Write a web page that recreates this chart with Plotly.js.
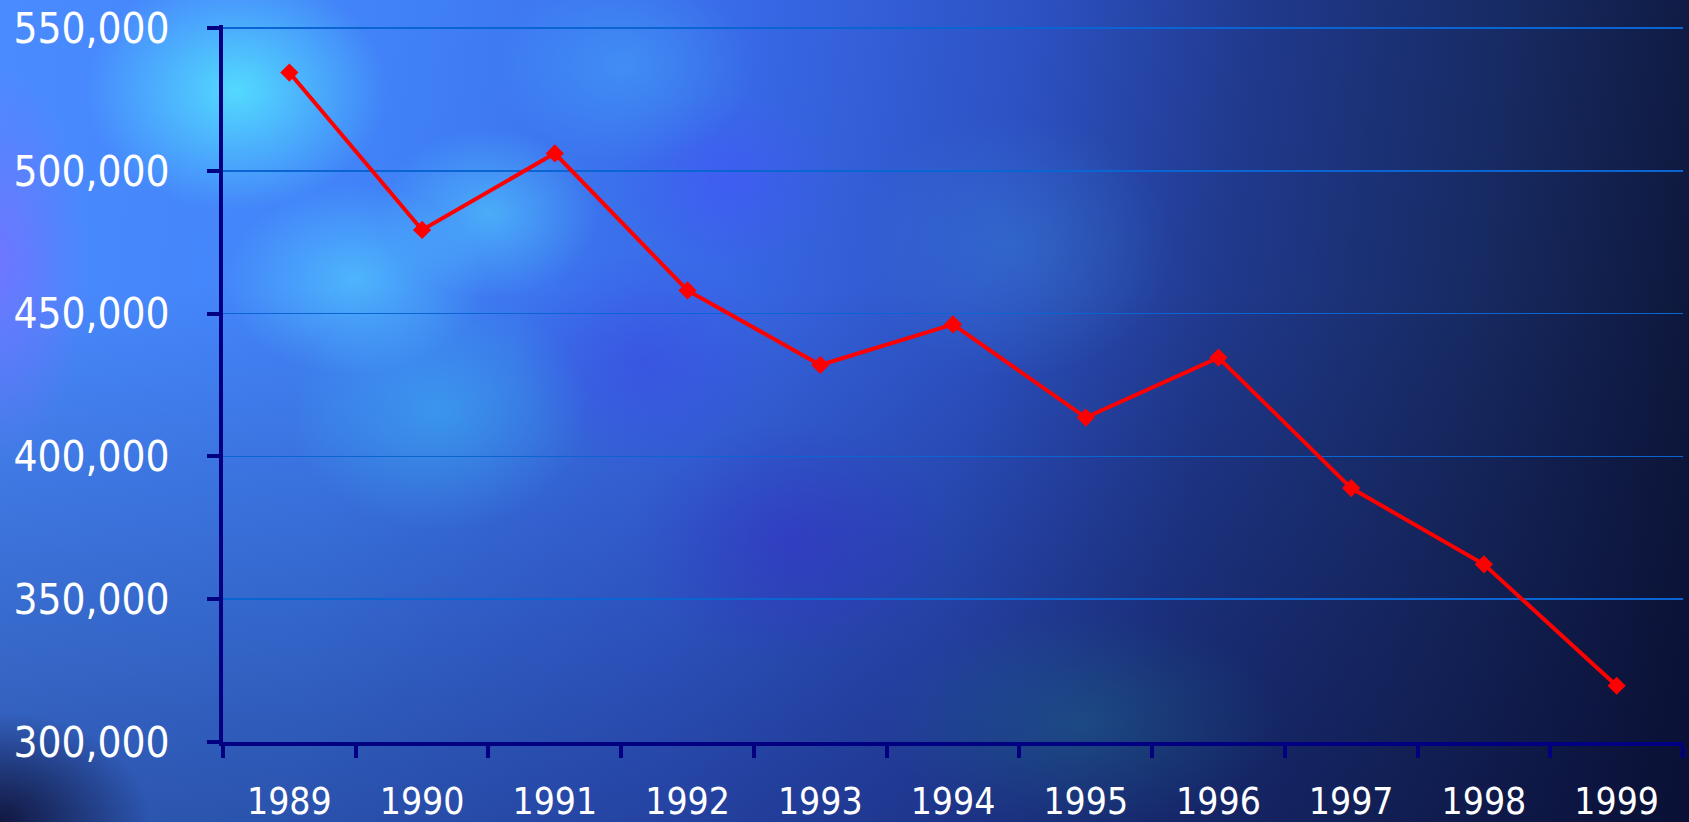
<!DOCTYPE html>
<html>
<head>
<meta charset="utf-8">
<script src="https://cdn.plot.ly/plotly-3.0.1.min.js"></script>
<style>
  html, body { margin: 0; padding: 0; width: 1689px; height: 822px; overflow: hidden; }
  body {
    background:
      radial-gradient(ellipse 150px 120px at 14% 11%, rgba(85,232,255,0.85) 0%, rgba(85,232,255,0) 100%),
      radial-gradient(ellipse 130px 95px at 21% 34%, rgba(85,215,255,0.6) 0%, rgba(85,215,255,0) 100%),
      radial-gradient(ellipse 110px 85px at 29% 26%, rgba(85,215,255,0.55) 0%, rgba(85,215,255,0) 100%),
      radial-gradient(ellipse 150px 120px at 26% 50%, rgba(60,195,250,0.45) 0%, rgba(60,195,250,0) 100%),
      radial-gradient(ellipse 130px 100px at 37% 8%, rgba(70,170,255,0.5) 0%, rgba(70,170,255,0) 100%),
      radial-gradient(ellipse 110px 90px at 43% 22%, rgba(70,80,255,0.45) 0%, rgba(70,80,255,0) 100%),
      radial-gradient(ellipse 160px 120px at 47% 66%, rgba(55,40,200,0.45) 0%, rgba(55,40,200,0) 100%),
      radial-gradient(ellipse 130px 110px at 38% 44%, rgba(60,60,230,0.4) 0%, rgba(60,60,230,0) 100%),
      radial-gradient(ellipse 90px 200px at 0% 32%, rgba(125,110,255,0.7) 0%, rgba(125,110,255,0) 100%),
      radial-gradient(ellipse 150px 110px at 0% 100%, rgba(12,12,45,0.85) 0%, rgba(12,12,45,0) 100%),
      radial-gradient(ellipse 200px 110px at 64% 88%, rgba(30,120,140,0.35) 0%, rgba(30,120,140,0) 100%),
      radial-gradient(ellipse 160px 130px at 60% 30%, rgba(60,140,220,0.35) 0%, rgba(60,140,220,0) 100%),
      linear-gradient(to bottom, rgba(0,0,0,0) 35%, rgba(8,12,60,0.4) 100%),
      linear-gradient(98deg, #4a8cff 0%, #4182f8 22%, #3868e6 42%, #2d52c4 57%, #20398c 70%, #172a62 84%, #0b1230 100%);
  }
  #chart { width: 1689px; height: 822px; }
</style>
</head>
<body>
<div id="chart"></div>
<script>
const years = ['1989','1990','1991','1992','1993','1994','1995','1996','1997','1998','1999'];
const values = [534400, 479300, 506100, 458100, 432000, 446200, 413600, 434600, 388900, 362200, 319700];
const yTicks = [300000, 350000, 400000, 450000, 500000, 550000];

const navy = '#000080';
const fontFam = '"DejaVu Sans Condensed", "Noto Sans", "DejaVu Sans", sans-serif';

const trace = {
  x: years,
  y: values,
  type: 'scatter',
  mode: 'lines+markers',
  line: { color: '#ff0000', width: 4 },
  marker: { symbol: 'diamond', size: 14, color: '#ff0000', line: { width: 0 } },
  hoverinfo: 'skip',
  showlegend: false
};

const layout = {
  width: 1689,
  height: 822,
  margin: { l: 223, r: 6, t: 25, b: 80, pad: 0 },
  paper_bgcolor: 'rgba(0,0,0,0)',
  plot_bgcolor: 'rgba(0,0,0,0)',
  showlegend: false,
  hovermode: false,
  xaxis: {
    type: 'category',
    range: [-0.5, years.length - 0.5],
    autorange: false,
    showline: true,
    linecolor: navy,
    linewidth: 4,
    ticks: 'outside',
    tickson: 'boundaries',
    ticklen: 12,
    tickwidth: 4,
    tickcolor: navy,
    showgrid: false,
    zeroline: false,
    ticklabelstandoff: 24,
    tickfont: { family: fontFam, size: 37, color: '#ffffff' },
    fixedrange: true
  },
  yaxis: {
    range: [300000, 551050],
    autorange: false,
    tickmode: 'array',
    tickvals: yTicks,
    tickformat: ',d',
    showline: true,
    linecolor: navy,
    linewidth: 4,
    ticks: 'outside',
    ticklen: 12,
    tickwidth: 4,
    tickcolor: navy,
    showgrid: true,
    gridcolor: '#0a64d2',
    gridwidth: 1.5,
    zeroline: false,
    ticklabelstandoff: 29,
    tickfont: { family: fontFam, size: 42, color: '#ffffff' },
    fixedrange: true
  }
};

Plotly.newPlot('chart', [trace], layout, { displayModeBar: false, staticPlot: true });
</script>
</body>
</html>
